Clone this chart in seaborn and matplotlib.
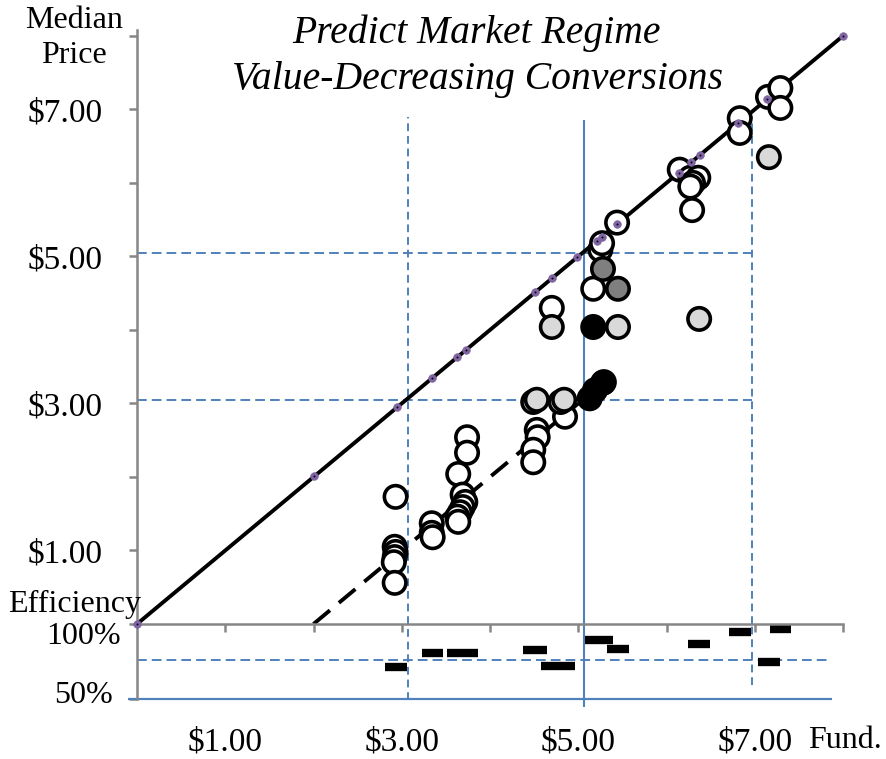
import matplotlib
matplotlib.use("Agg")
import matplotlib.pyplot as plt
import matplotlib.transforms as mtransforms
import seaborn as sns
import pandas as pd

sns.set_style("white")
plt.rcParams['font.family'] = ['Liberation Serif', 'DejaVu Serif']
plt.rcParams['text.color'] = 'black'
plt.rcParams['xtick.labelcolor'] = 'black'
plt.rcParams['ytick.labelcolor'] = 'black'

# sessions: fundamental value vs median price (open = no fill)
open_fund = [3.74, 3.74, 3.64, 2.93, 3.69, 3.72, 3.69, 3.66, 3.63, 3.64, 3.34, 3.34, 3.35,
             2.92, 2.93, 2.92, 2.91, 2.92, 4.85, 4.53, 4.54, 4.49, 4.49, 4.49, 4.80,
             5.29, 4.70, 5.17, 5.25, 5.27, 5.44, 6.15, 6.27, 6.36, 6.30, 6.27, 6.29,
             6.83, 6.83, 7.15, 7.29, 7.29]
open_price = [2.54, 2.33, 2.04, 1.73, 1.76, 1.66, 1.59, 1.52, 1.46, 1.39, 1.37, 1.24, 1.18,
              1.05, 0.98, 0.91, 0.84, 0.56, 2.82, 2.64, 2.54, 2.37, 2.20, 3.02, 3.02,
              3.29, 4.30, 4.56, 5.09, 5.18, 5.46, 6.18, 6.07, 6.07, 6.00, 5.95, 5.63,
              6.88, 6.68, 7.17, 7.29, 7.02]
light_fund = [4.53, 4.84, 4.70, 5.45, 6.37, 7.16]
light_price = [3.05, 3.05, 4.04, 4.04, 4.15, 6.35]
gray_fund = [5.45, 5.28]
gray_price = [4.56, 4.83]
black_fund = [5.17, 5.13, 5.19, 5.28]
black_price = [4.04, 3.07, 3.18, 3.28]

# predicted prices (on the diagonal)
pred_fund = [0.0, 2.01, 2.95, 3.34, 3.63, 3.73, 4.51, 4.70, 4.99, 5.21, 5.27, 5.44,
             6.14, 6.28, 6.38, 6.81, 7.14, 8.0]
pred_price = [0.0, 2.01, 2.95, 3.34, 3.63, 3.73, 4.51, 4.70, 4.99, 5.21, 5.27, 5.44,
              6.14, 6.28, 6.38, 6.81, 7.14, 8.0]

diag_fund = [0.0, 8.0]
diag_price = [0.0, 8.0]
dash_fund = [2.0, 5.0]
dash_price = [0.0, 3.0]

# efficiency bars
eff_start = [2.81, 3.23, 3.51, 4.37, 4.58, 5.08, 5.33, 6.24, 6.71, 7.17, 7.04]
eff_end = [3.06, 3.47, 3.86, 4.65, 4.96, 5.39, 5.58, 6.49, 6.96, 7.41, 7.29]
eff_level = [71.3, 80.7, 80.7, 82.7, 72.0, 89.3, 83.3, 86.7, 94.7, 96.7, 74.7]

price_ticks = [1, 2, 3, 4, 5, 6, 7, 8]
price_labels = [r'\$1.00', '', r'\$3.00', '', r'\$5.00', '', r'\$7.00', '']
fund_ticks = [1, 3, 5, 7]
fund_labels = [r'\$1.00', r'\$3.00', r'\$5.00', r'\$7.00']
eff_ticks = [50, 100]
eff_labels = ['50%', '100%']

BLUE = '#4f81bd'
GREY = '#868686'
PURPLE = '#8064a2'
FS = 23
TFS = 24

df = pd.concat([
    pd.DataFrame({'fund': open_fund, 'price': open_price, 'kind': 'open'}),
    pd.DataFrame({'fund': light_fund, 'price': light_price, 'kind': 'light'}),
    pd.DataFrame({'fund': gray_fund, 'price': gray_price, 'kind': 'gray'}),
    pd.DataFrame({'fund': black_fund, 'price': black_price, 'kind': 'black'}),
], ignore_index=True)
fills = {'open': 'white', 'light': '#d9d9d9', 'gray': '#7f7f7f', 'black': 'black'}

W, H = 886, 759
fig = plt.figure(figsize=(W / 100, H / 100), dpi=100)
ax = fig.add_axes([137 / W, 1 - 624 / H, 706 / W, 594 / H])
ax2 = fig.add_axes([137 / W, 1 - 699 / H, 706 / W, 75 / H])
ax.set_zorder(2)
ax.patch.set_alpha(0)

# main panel
ax.set_xlim(0, 8)
ax.set_ylim(0, 8.08)
dash_blue = (0, (5, 2.6))
ax.hlines([3.05, 5.05], 0, 6.97, colors=BLUE, lw=1.4, linestyles=[dash_blue], zorder=1)
ax.vlines(0, 3.05, 5.05, colors=BLUE, lw=1.4, linestyles=[dash_blue], zorder=1)
ax.vlines([3.07, 6.97], 0, 6.9, colors=BLUE, lw=1.4, linestyles=[(0, (4, 2.5))], zorder=1)
ax.vlines(5.06, 0, 6.86, colors=BLUE, lw=1.5, zorder=1)

ax.plot(diag_fund, diag_price, color='black', lw=2.8, zorder=2, clip_on=False)
ax.plot(dash_fund, dash_price, color='black', lw=2.8, ls=(0, (5.5, 3)), zorder=2)

sns.scatterplot(data=df, x='fund', y='price', hue='kind', palette=fills, s=260,
                edgecolor='black', linewidth=2.6, legend=False, ax=ax, zorder=3)
sns.scatterplot(x=pred_fund, y=pred_price, color=PURPLE, s=30, edgecolor=PURPLE,
                linewidth=0.5, legend=False, ax=ax, zorder=4, clip_on=False)
sns.scatterplot(x=pred_fund, y=pred_price, color='black', s=2, linewidth=0,
                legend=False, ax=ax, zorder=5, clip_on=False)

ax.set_xlabel('')
ax.set_ylabel('')
for side in ['top', 'right']:
    ax.spines[side].set_visible(False)
for side in ['left', 'bottom']:
    ax.spines[side].set_color(GREY)
    ax.spines[side].set_linewidth(1.8)
ax.set_xticks(price_ticks, [''] * len(price_ticks))
ax.set_yticks(price_ticks, price_labels)
ax.tick_params(axis='both', direction='out', length=5.5, width=1.8, color=GREY,
               labelsize=TFS, pad=19, bottom=True, left=True)
ax.tick_params(axis='x', pad=0)

# efficiency panel
ax2.set_xlim(0, 8)
ax2.set_ylim(50, 100)
ax2.patch.set_alpha(0)
ax2.hlines(76, 0, 7.83, colors=BLUE, lw=1.4, linestyles=[dash_blue], zorder=1)
ax2.hlines(50, -0.1, 7.87, colors=BLUE, lw=1.6, zorder=1, clip_on=False)
ax2.vlines(3.07, 49.3, 100, colors=BLUE, lw=1.4, linestyles=[(0, (4, 2.5))], zorder=1)
ax2.vlines(6.97, 59.3, 100, colors=BLUE, lw=1.4, linestyles=[(0, (4, 2.5))], zorder=1)
ax2.vlines(5.06, 44.7, 100, colors=BLUE, lw=1.5, zorder=1, clip_on=False)
ax2.hlines(eff_level, eff_start, eff_end, colors='black', lw=6, zorder=3)

for side in ['top', 'right', 'bottom']:
    ax2.spines[side].set_visible(False)
ax2.spines['left'].set_color(GREY)
ax2.spines['left'].set_linewidth(1.8)
ax2.set_xticks(fund_ticks, fund_labels)
ax2.tick_params(axis='x', length=0, labelsize=TFS, pad=20)
ax2.set_yticks(eff_ticks, eff_labels)
ax2.tick_params(axis='y', length=5.5, width=1.8, color=GREY, labelsize=FS, pad=33,
                left=True)
shifts = {'50%': 5, '100%': -6.5}
for lbl in ax2.get_yticklabels():
    lbl.set_horizontalalignment('center')
    lbl.set_transform(lbl.get_transform() + mtransforms.ScaledTranslation(
        0, shifts[lbl.get_text()] / 72, fig.dpi_scale_trans))

# titles and axis captions
fig.text(476 / W, 1 - 33 / H, 'Predict Market Regime', ha='center', va='center',
         fontsize=28.5, style='italic')
fig.text(478 / W, 1 - 79 / H, 'Value-Decreasing Conversions', ha='center', va='center',
         fontsize=28.5, style='italic')
fig.text(74 / W, 1 - 38 / H, 'Median\nPrice', ha='center', va='center', fontsize=FS,
         linespacing=1.25)
fig.text(75 / W, 1 - 604 / H, 'Efficiency', ha='center', va='center', fontsize=FS)
fig.text(808 / W, 1 - 740 / H, 'Fund.', ha='left', va='center', fontsize=FS)

fig.savefig('out.png', dpi=100, facecolor='white')
